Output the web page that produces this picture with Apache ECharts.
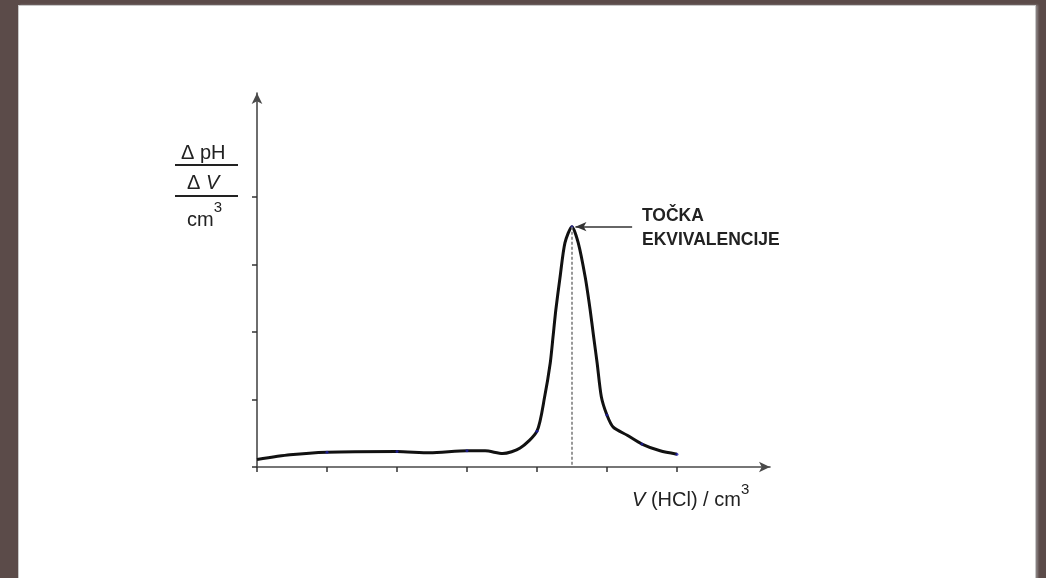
<!DOCTYPE html>
<html>
<head>
<meta charset="utf-8">
<script src="https://cdn.jsdelivr.net/npm/echarts@6/dist/echarts.min.js"></script>
<style>
	html, body {
		margin: 0;
		padding: 0;
		width: 1046px;
		height: 578px;
		overflow: hidden;
		background: #5b4b49;
	}
	#page {
		position: absolute;
		left: 18px;
		top: 5px;
		width: 1016px;
		height: 580px;
		background: #fff;
		border: 1px solid #c8c8c8;
		box-shadow: 2px 0 2px #8a8282;
	}
	#chart {
		position: absolute;
		left: 0;
		top: 0;
		width: 1046px;
		height: 578px;
	}
</style>
</head>
<body>
<div id="page"></div>
<div id="chart"></div>
<script>
	// V(HCl) / cm3 - tick units
	var vol = [0, 0.47, 1.0, 2.0, 2.47, 3.0, 3.26, 3.51, 3.76, 4.0, 4.11, 4.19, 4.23, 4.27, 4.33, 4.40, 4.5,
		4.59, 4.69, 4.76, 4.81, 4.86, 4.92, 5.0, 5.09, 5.29, 5.5, 5.76, 6.0];
	// ΔpH / ΔV
	var dpH = [0.11, 0.18, 0.22, 0.23, 0.21, 0.24, 0.24, 0.20, 0.28, 0.53, 1.04, 1.54, 1.93, 2.33, 2.81, 3.32, 3.56,
		3.32, 2.81, 2.33, 1.93, 1.54, 1.04, 0.77, 0.59, 0.47, 0.34, 0.24, 0.19];
	// measured points drawn as small dots
	var markedVol = [1, 2, 3, 4, 4.5, 5, 5.5, 6];
	var xTicks = [0, 1, 2, 3, 4, 5, 6];
	var yTicks = [0, 1, 2, 3, 4];
	var xMax = 7.33, yMax = 5.54;
	var peakVol = 4.5, peakVal = 3.56;
	var arrowEnd = 5.36;

	var lineData = [], dotData = [];
	for (var i = 0; i < vol.length; i++) {
		lineData.push([vol[i], dpH[i]]);
		if (markedVol.indexOf(vol[i]) > -1) dotData.push([vol[i], dpH[i]]);
	}

	var font = 'Liberation Sans, Arial, sans-serif';
	var myChart = echarts.init(document.getElementById('chart'));

	var option = {
		animation: false,
		grid: {
			left: 257,
			top: 93,
			width: 513,
			height: 374
		},
		xAxis: {
			type: 'value',
			min: 0,
			max: xMax,
			axisLine: {
				symbol: ['none', 'arrow'],
				symbolSize: [8, 11],
				lineStyle: { color: '#4a4a4a', width: 1.6 }
			},
			axisTick: {
				customValues: xTicks,
				length: 5,
				lineStyle: { color: '#333', width: 1.5 }
			},
			axisLabel: { show: false },
			splitLine: { show: false }
		},
		yAxis: {
			type: 'value',
			min: 0,
			max: yMax,
			axisLine: {
				show: true,
				symbol: ['none', 'arrow'],
				symbolSize: [8, 11],
				lineStyle: { color: '#4a4a4a', width: 1.6 }
			},
			axisTick: {
				show: true,
				customValues: yTicks,
				length: 5,
				lineStyle: { color: '#333', width: 1.5 }
			},
			axisLabel: { show: false },
			splitLine: { show: false }
		},
		series: [{
			type: 'line',
			data: lineData,
			smooth: 0.25,
			showSymbol: false,
			lineStyle: { color: '#111', width: 3 },
			z: 3,
			markLine: {
				silent: true,
				symbol: ['none', 'none'],
				label: { show: false },
				data: [
					[{ coord: [peakVol, peakVal], lineStyle: { color: '#777', type: [3, 2], width: 1.5 } },
						{ coord: [peakVol, 0] }],
					[{ coord: [arrowEnd, peakVal], symbol: 'none', lineStyle: { color: '#333', type: 'solid', width: 1.5 } },
						{ coord: [peakVol + 0.05, peakVal], symbol: 'arrow', symbolSize: [7, 11] }]
				]
			}
		}, {
			type: 'scatter',
			data: dotData,
			symbolSize: 3,
			itemStyle: { color: '#1c1ca8' },
			z: 4
		}],
		graphic: [
			{ type: 'text', left: 642, top: 207, style: { text: 'TOČKA', font: 'bold 17.5px ' + font, fill: '#222' } },
			{ type: 'text', left: 642, top: 231, style: { text: 'EKVIVALENCIJE', font: 'bold 17.5px ' + font, fill: '#222' } },
			// y-axis fraction label
			{ type: 'text', left: 181, top: 143, style: { text: 'Δ pH', font: '20px ' + font, fill: '#222' } },
			{ type: 'line', shape: { x1: 175, y1: 165, x2: 238, y2: 165 }, style: { stroke: '#222', lineWidth: 2 } },
			{
				type: 'text', left: 187, top: 173,
				style: {
					text: '{n|Δ }{i|V}',
					rich: {
						n: { font: '20px ' + font, fill: '#222' },
						i: { font: 'italic 20px ' + font, fill: '#222' }
					}
				}
			},
			{ type: 'line', shape: { x1: 175, y1: 196, x2: 238, y2: 196 }, style: { stroke: '#222', lineWidth: 2 } },
			{
				type: 'text', left: 187, top: 200,
				style: {
					text: '{n|cm}{s|3}',
					rich: {
						n: { font: '20px ' + font, fill: '#222', verticalAlign: 'bottom', padding: [10, 0, 0, 0] },
						s: { font: '15px ' + font, fill: '#222', verticalAlign: 'top' }
					}
				}
			},
			// x-axis label
			{
				type: 'text', left: 632, top: 482,
				style: {
					text: '{i|V}{n| (HCl) / cm}{s|3}',
					rich: {
						i: { font: 'italic 20px ' + font, fill: '#222', verticalAlign: 'bottom', padding: [8, 0, 0, 0] },
						n: { font: '20px ' + font, fill: '#222', verticalAlign: 'bottom', padding: [8, 0, 0, 0] },
						s: { font: '15px ' + font, fill: '#222', verticalAlign: 'top' }
					}
				}
			}
		]
	};
	myChart.setOption(option);
</script>
</body>
</html>
